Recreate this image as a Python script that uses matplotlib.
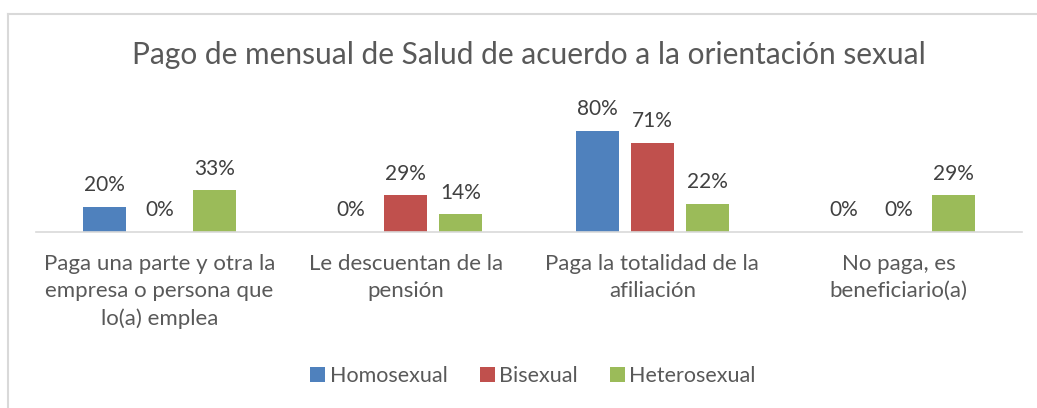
import numpy as np
import matplotlib.pyplot as plt
from matplotlib.lines import Line2D

# ── DATA ───────────────────────────────────────────────────────────────────────
CATEGORIES = [
    'Paga una parte y otra la\nempresa o persona que\nlo(a) emplea',
    'Le descuentan de la\npensión',
    'Paga la totalidad de la\nafiliación',
    'No paga, es\nbeneficiario(a)',
]
SERIES = ['Homosexual', 'Bisexual', 'Heterosexual']
homosexual   = [0.20, 0.00, 0.80, 0.00]
bisexual     = [0.00, 0.29, 0.71, 0.00]
heterosexual = [0.33, 0.14, 0.22, 0.29]

TITLE = 'Pago de mensual de Salud de acuerdo a la orientación sexual'

# ── STYLE ──────────────────────────────────────────────────────────────────────
COLORS = ['#4F81BD', '#C0504D', '#9BBB59']
plt.rcParams['font.family'] = ['Lato', 'DejaVu Sans']

W, H, DPI = 1037, 408, 100
fig = plt.figure(figsize=(W / DPI, H / DPI), dpi=DPI)

# axes placed in pixel terms: baseline at y=232, 126 px per 100 %
base_y, px_per_unit = 232, 126
ax = fig.add_axes([36 / W, (H - base_y) / H, 986 / W, px_per_unit / H])

x = np.arange(len(CATEGORIES))
step, width = 0.223, 0.174
for i, (name, vals) in enumerate(zip(SERIES, [homosexual, bisexual, heterosexual])):
    pos = x + (i - 1) * step
    ax.bar(pos, vals, width, color=COLORS[i], label=name, zorder=2)
    for xp, v in zip(pos, vals):
        ax.annotate(f'{v:.0%}', (xp, v), xytext=(0, 8.5), textcoords='offset points',
                    ha='center', va='bottom', fontsize=15, color='#404040',
                    annotation_clip=False)

ax.set_xlim(-0.5, len(CATEGORIES) - 0.5)
ax.set_ylim(0, 1)
ax.set_yticks([])
ax.set_xticks(x)
ax.set_xticklabels(CATEGORIES, fontsize=16, color='#595959', linespacing=1.42)
ax.tick_params(axis='x', length=0, pad=16)
for s in ['top', 'right', 'left']:
    ax.spines[s].set_visible(False)
ax.spines['bottom'].set_color('#D9D9D9')
ax.spines['bottom'].set_linewidth(1.2)
ax.patch.set_alpha(0)

fig.text(529 / W, 1 - 55 / H, TITLE, ha='center', va='center',
         fontsize=21.5, color='#595959')

leg = fig.legend(loc='center', bbox_to_anchor=(533 / W, 1 - 376 / H), ncol=3,
                 frameon=False, fontsize=15.5, handlelength=0.7, handleheight=0.7,
                 handletextpad=0.2, columnspacing=1.5)
for t in leg.get_texts():
    t.set_color('#595959')

# chart-area border (left and top edges visible)
fig.add_artist(Line2D([7.5 / W, 7.5 / W], [0, 1 - 13.5 / H], color='#D9D9D9', lw=1.5))
fig.add_artist(Line2D([7.5 / W, 1], [1 - 13.5 / H, 1 - 13.5 / H], color='#D9D9D9', lw=1.5))

fig.savefig('out.png', dpi=DPI)
